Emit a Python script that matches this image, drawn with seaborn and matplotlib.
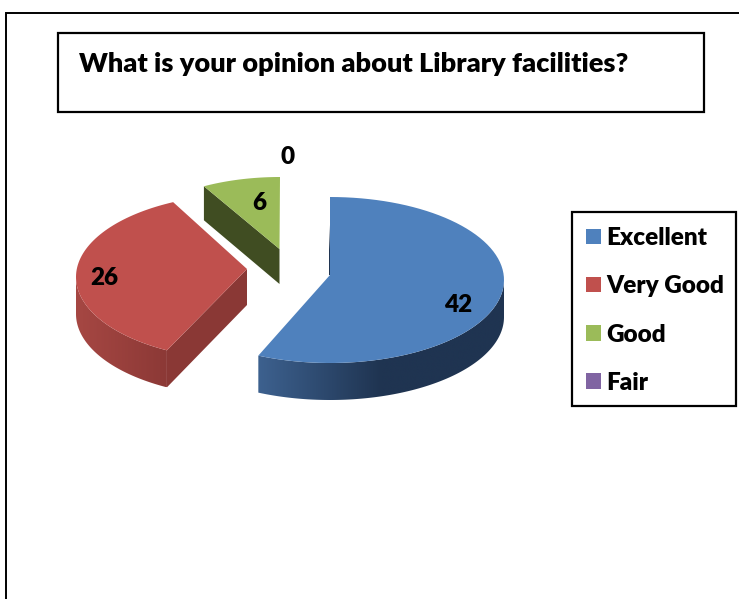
import numpy as np
import matplotlib
matplotlib.use("Agg")
import matplotlib.pyplot as plt
from matplotlib.patches import Patch, Rectangle, Polygon
from matplotlib.colors import to_rgb
import seaborn as sns

# Data
categories = ["Excellent", "Very Good", "Good", "Fair"]
values = [42, 26, 6, 0]
title = "What is your opinion about Library facilities?"

# Style
top_colors = sns.color_palette(["#4F81BD", "#C0504D", "#9BBB59", "#8064A2"])
centers = [(330, 280), (247, 277), (280, 250)]
apexes = [(330, 275), (247, 269), (279.5, 249)]
radii = [(174, 83), (171, 83), (156, 73)]
rotations = [0, 3.6, 0]
depths = [37, 37, 34]
label_pos = [(458, 305), (104, 278), (259.5, 203), (288, 157)]
side_ramps = [("#3D618F", "#1F3451", 0.5), ("#A64743", "#8C3936", 1.0), None]
cut_colors = ["#1F3451", "#8A3835", "#404D22"]
WEIGHT = "heavy"

sns.set_theme(style="white")
plt.rcParams["font.family"] = ["Lato", "DejaVu Sans"]

fig = plt.figure(figsize=(7.39, 5.99), dpi=100)
ax = fig.add_axes([0, 0, 1, 1])
ax.set_xlim(0, 739)
ax.set_ylim(599, 0)
ax.axis("off")

# page border
ax.plot([6, 6, 739], [599, 13, 13], color="black", lw=1.4, solid_joinstyle="miter")
# title box
ax.add_patch(Rectangle((58, 33), 646, 79, fill=False, ec="black", lw=1.6))
ax.text(79, 64, title, fontsize=19.5, fontweight=WEIGHT, color="black", va="center", ha="left")

shares = np.array(values, dtype=float) / sum(values) * 360
starts = np.concatenate([[0], np.cumsum(shares)[:-1]])


def rim(i, a, b, n=80):
    th = np.radians(np.linspace(a, b, n))
    cx, cy = centers[i]
    rx, ry = radii[i]
    return cx + rx * np.sin(th), cy - ry * np.cos(th)


for i in range(3):
    a = starts[i] + rotations[i]
    b = a + shares[i]
    d = depths[i]
    ax_, ay_ = apexes[i]
    x, y = rim(i, a, b)
    # cut face toward the viewer
    if i == 0:
        ax.fill([x[0] - 1, ax_ - 1, ax_ + 1], [y[0] + 28, ay_, ay_], color="#1F3451", lw=0, zorder=3)
    elif i == 1:
        ax.fill([x[0], ax_, ax_, x[0]], [y[0], ay_, ay_ + d - 1, y[0] + d], color=cut_colors[1], lw=0, zorder=2)
    else:
        ax.fill([x[0], ax_, ax_, x[0]], [y[0], ay_, ay_ + d + 1, y[0] + d], color=cut_colors[2], lw=0, zorder=2)
    # outer wall with a shaded ramp, clipped to the wall outline
    if side_ramps[i] is not None:
        c0, c1, stop = side_ramps[i]
        c0, c1 = np.array(to_rgb(c0)), np.array(to_rgb(c1))
        lo, hi = max(a, 90), min(b, 270)
        sx, sy = rim(i, lo, hi, 160)
        xmin, xmax = sx.min(), sx.max()
        t = np.clip(np.linspace(0, 1, 300) / stop, 0, 1)[:, None]
        grad = (c0 + (c1 - c0) * t)[None, :, :]
        wall = Polygon(np.c_[np.r_[sx, sx[::-1]], np.r_[sy, sy[::-1] + d]],
                       closed=True, transform=ax.transData, fc="none", ec="none")
        ax.add_patch(wall)
        im = ax.imshow(grad, extent=(xmin, xmax, sy.max() + d, sy.min()),
                       aspect="auto", zorder=2, interpolation="bilinear")
        im.set_clip_path(wall)
    # top face
    ax.fill(np.r_[ax_, x], np.r_[ay_, y], color=top_colors[i], lw=0, zorder=4)

ax.set_xlim(0, 739)
ax.set_ylim(599, 0)

# data labels
for v, (lx, ly) in zip(values, label_pos):
    ax.text(lx, ly, str(v), fontsize=17.5, fontweight=WEIGHT, color="black",
            ha="center", va="center", zorder=6)

# legend
ax.add_patch(Rectangle((572, 212), 164, 194, fill=False, ec="black", lw=1.6, zorder=5))
handles = [Patch(facecolor=c, edgecolor="none", label=l) for c, l in zip(top_colors, categories)]
ax.legend(handles=handles, loc="upper left", bbox_to_anchor=(586, 227),
          bbox_transform=ax.transData, frameon=False, borderpad=0, borderaxespad=0,
          handlelength=0.61, handleheight=0.61, handletextpad=0.24, labelcolor="black",
          labelspacing=1.08, prop={"family": "Lato", "weight": WEIGHT, "size": 17.5})

fig.savefig("out.png", dpi=100, facecolor="white")
